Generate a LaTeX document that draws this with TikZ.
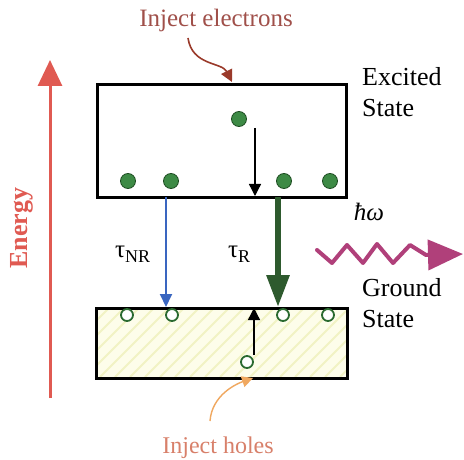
\documentclass[tikz,border=0pt]{standalone}
\usepackage{fontspec}
\setmainfont{Liberation Serif}
\usetikzlibrary{arrows.meta}
\definecolor{elecfill}{HTML}{3D8A45}
\definecolor{elecdraw}{HTML}{1E4D22}
\definecolor{holedraw}{HTML}{2A6A30}
\definecolor{browntxt}{HTML}{A0504A}
\definecolor{brownarr}{HTML}{9A3A2A}
\definecolor{holetxt}{HTML}{D8806A}
\definecolor{holearr}{HTML}{F0A860}
\definecolor{energy}{HTML}{E05A52}
\definecolor{wave}{HTML}{B0407A}
\definecolor{bluearr}{HTML}{3A66C0}
\definecolor{greenarr}{HTML}{2E5A2E}
\definecolor{gndfill}{HTML}{FDFDEA}
\definecolor{hatch}{HTML}{F1F3C4}
\begin{document}
\begin{tikzpicture}[x=1pt,y=-1pt,
  band/.style={draw=black,line width=3pt},
  elec/.style={circle,fill=elecfill,draw=elecdraw,line width=0.8pt,minimum size=15pt,inner sep=0pt},
  hole/.style={circle,fill=white,draw=holedraw,line width=1.8pt,minimum size=12pt,inner sep=0pt},
  lbl/.style={font=\fontsize{26}{31}\selectfont,align=left,anchor=base west,inner sep=0pt},
  tau/.style={font=\fontsize{25}{28}\selectfont,anchor=base west,inner sep=0pt},
  hop/.style={draw=black,line width=1.3pt,-{Triangle[length=12pt,width=12pt]}}
]
\useasboundingbox (0,0) rectangle (464,460);
\fill[white] (0,0) rectangle (464,460);

% ground band fill with hatching
\fill[gndfill] (95,307) rectangle (346,377);
\begin{scope}
  \clip (95,307) rectangle (346,377);
  \foreach \i in {0,...,24} \draw[hatch,line width=2pt] (40+\i*15,377) -- ++(80,-80);
\end{scope}
\node[band,minimum width=251pt,minimum height=70pt,inner sep=0pt,anchor=north west] (gnd) at (95,307) {};
\node[band,minimum width=249pt,minimum height=113pt,inner sep=0pt,anchor=north west] (exc) at (96,83) {};

% electrons
\node[elec] (e1) at (128,181) {};
\node[elec] (e2) at (171,181) {};
\node[elec] (e3) at (284,181) {};
\node[elec] (e4) at (330,181) {};
\node[elec] (e5) at (239,119) {};

% holes
\node[hole] (h1) at (127,315) {};
\node[hole] (h2) at (172,315) {};
\node[hole] (h3) at (283,315) {};
\node[hole] (h4) at (328,315) {};
\node[hole] (h5) at (247,362) {};

% coordinates for transitions
\coordinate (eb1) at (255,128);
\coordinate (eb2) at (255,196);
\coordinate (gt1) at (254,355);
\coordinate (gt2) at (254,308);
\coordinate (nrs) at (166,197);
\coordinate (nre) at (166,307);
\coordinate (rs) at (278,197);
\coordinate (re) at (278,307);

\draw[hop] (eb1) -- (eb2);
\draw[hop] (gt1) -- (gt2);
\draw[bluearr,line width=2pt,-{Triangle[length=13pt,width=12pt]}] (nrs) -- (nre);
\draw[greenarr,line width=6pt,-{Triangle[length=32pt,width=22pt]}] (rs) -- (re);

% labels
\node[tau] (tnr) at (115,258) {τ\raisebox{-5pt}{\fontsize{18}{20}\selectfont NR}};
\node[tau] (tr) at (228,258) {τ\raisebox{-5pt}{\fontsize{18}{20}\selectfont R}};

\node[lbl] (exclbl) at (362,117) {Excited\\State};
\node[lbl] (gndlbl) at (362,327) {Ground\\State};

% inject electrons
\node[font=\fontsize{25}{28}\selectfont,text=browntxt,anchor=base,inner sep=0pt] (injE) at (216,27) {Inject electrons};
\coordinate (injEs) at (188,38);
\coordinate (injEe) at (232,82);
\draw[brownarr,line width=1.6pt,-{Triangle[length=12pt,width=12pt]}] (injEs) .. controls (192,66) and (222,62) .. (injEe);

% inject holes
\node[font=\fontsize{24}{28}\selectfont,text=holetxt,anchor=base,inner sep=0pt] (injH) at (218,453) {Inject holes};
\coordinate (injHs) at (210,421);
\coordinate (injHe) at (253,378);
\draw[holearr,line width=1.4pt,-{Triangle[length=11pt,width=11pt]}] (injHs) .. controls (212,395) and (236,384) .. (injHe);

% energy axis
\coordinate (en0) at (50,398);
\coordinate (en1) at (50,60);
\draw[energy,line width=3pt,-{Triangle[length=26pt,width=24pt]}] (en0) -- (en1);
\node[rotate=90,font=\bfseries\fontsize{26}{28}\selectfont,text=energy,inner sep=0pt] (enlbl) at (22,228) {Energy};

% photon
\node[font=\itshape\fontsize{25}{28}\selectfont,anchor=base,inner sep=0pt] (hw) at (369,221) {ħω};
\coordinate (ph0) at (317,250);
\coordinate (ph1) at (463,254);
\draw[wave,line width=4pt,line join=round,line cap=round,-{Triangle[length=35pt,width=30pt]}]
  (ph0) -- (332,263) -- (347,245) -- (363,263) -- (377,244) -- (393,263) -- (410,245) -- (426,255) -- (ph1);
\end{tikzpicture}
\end{document}
